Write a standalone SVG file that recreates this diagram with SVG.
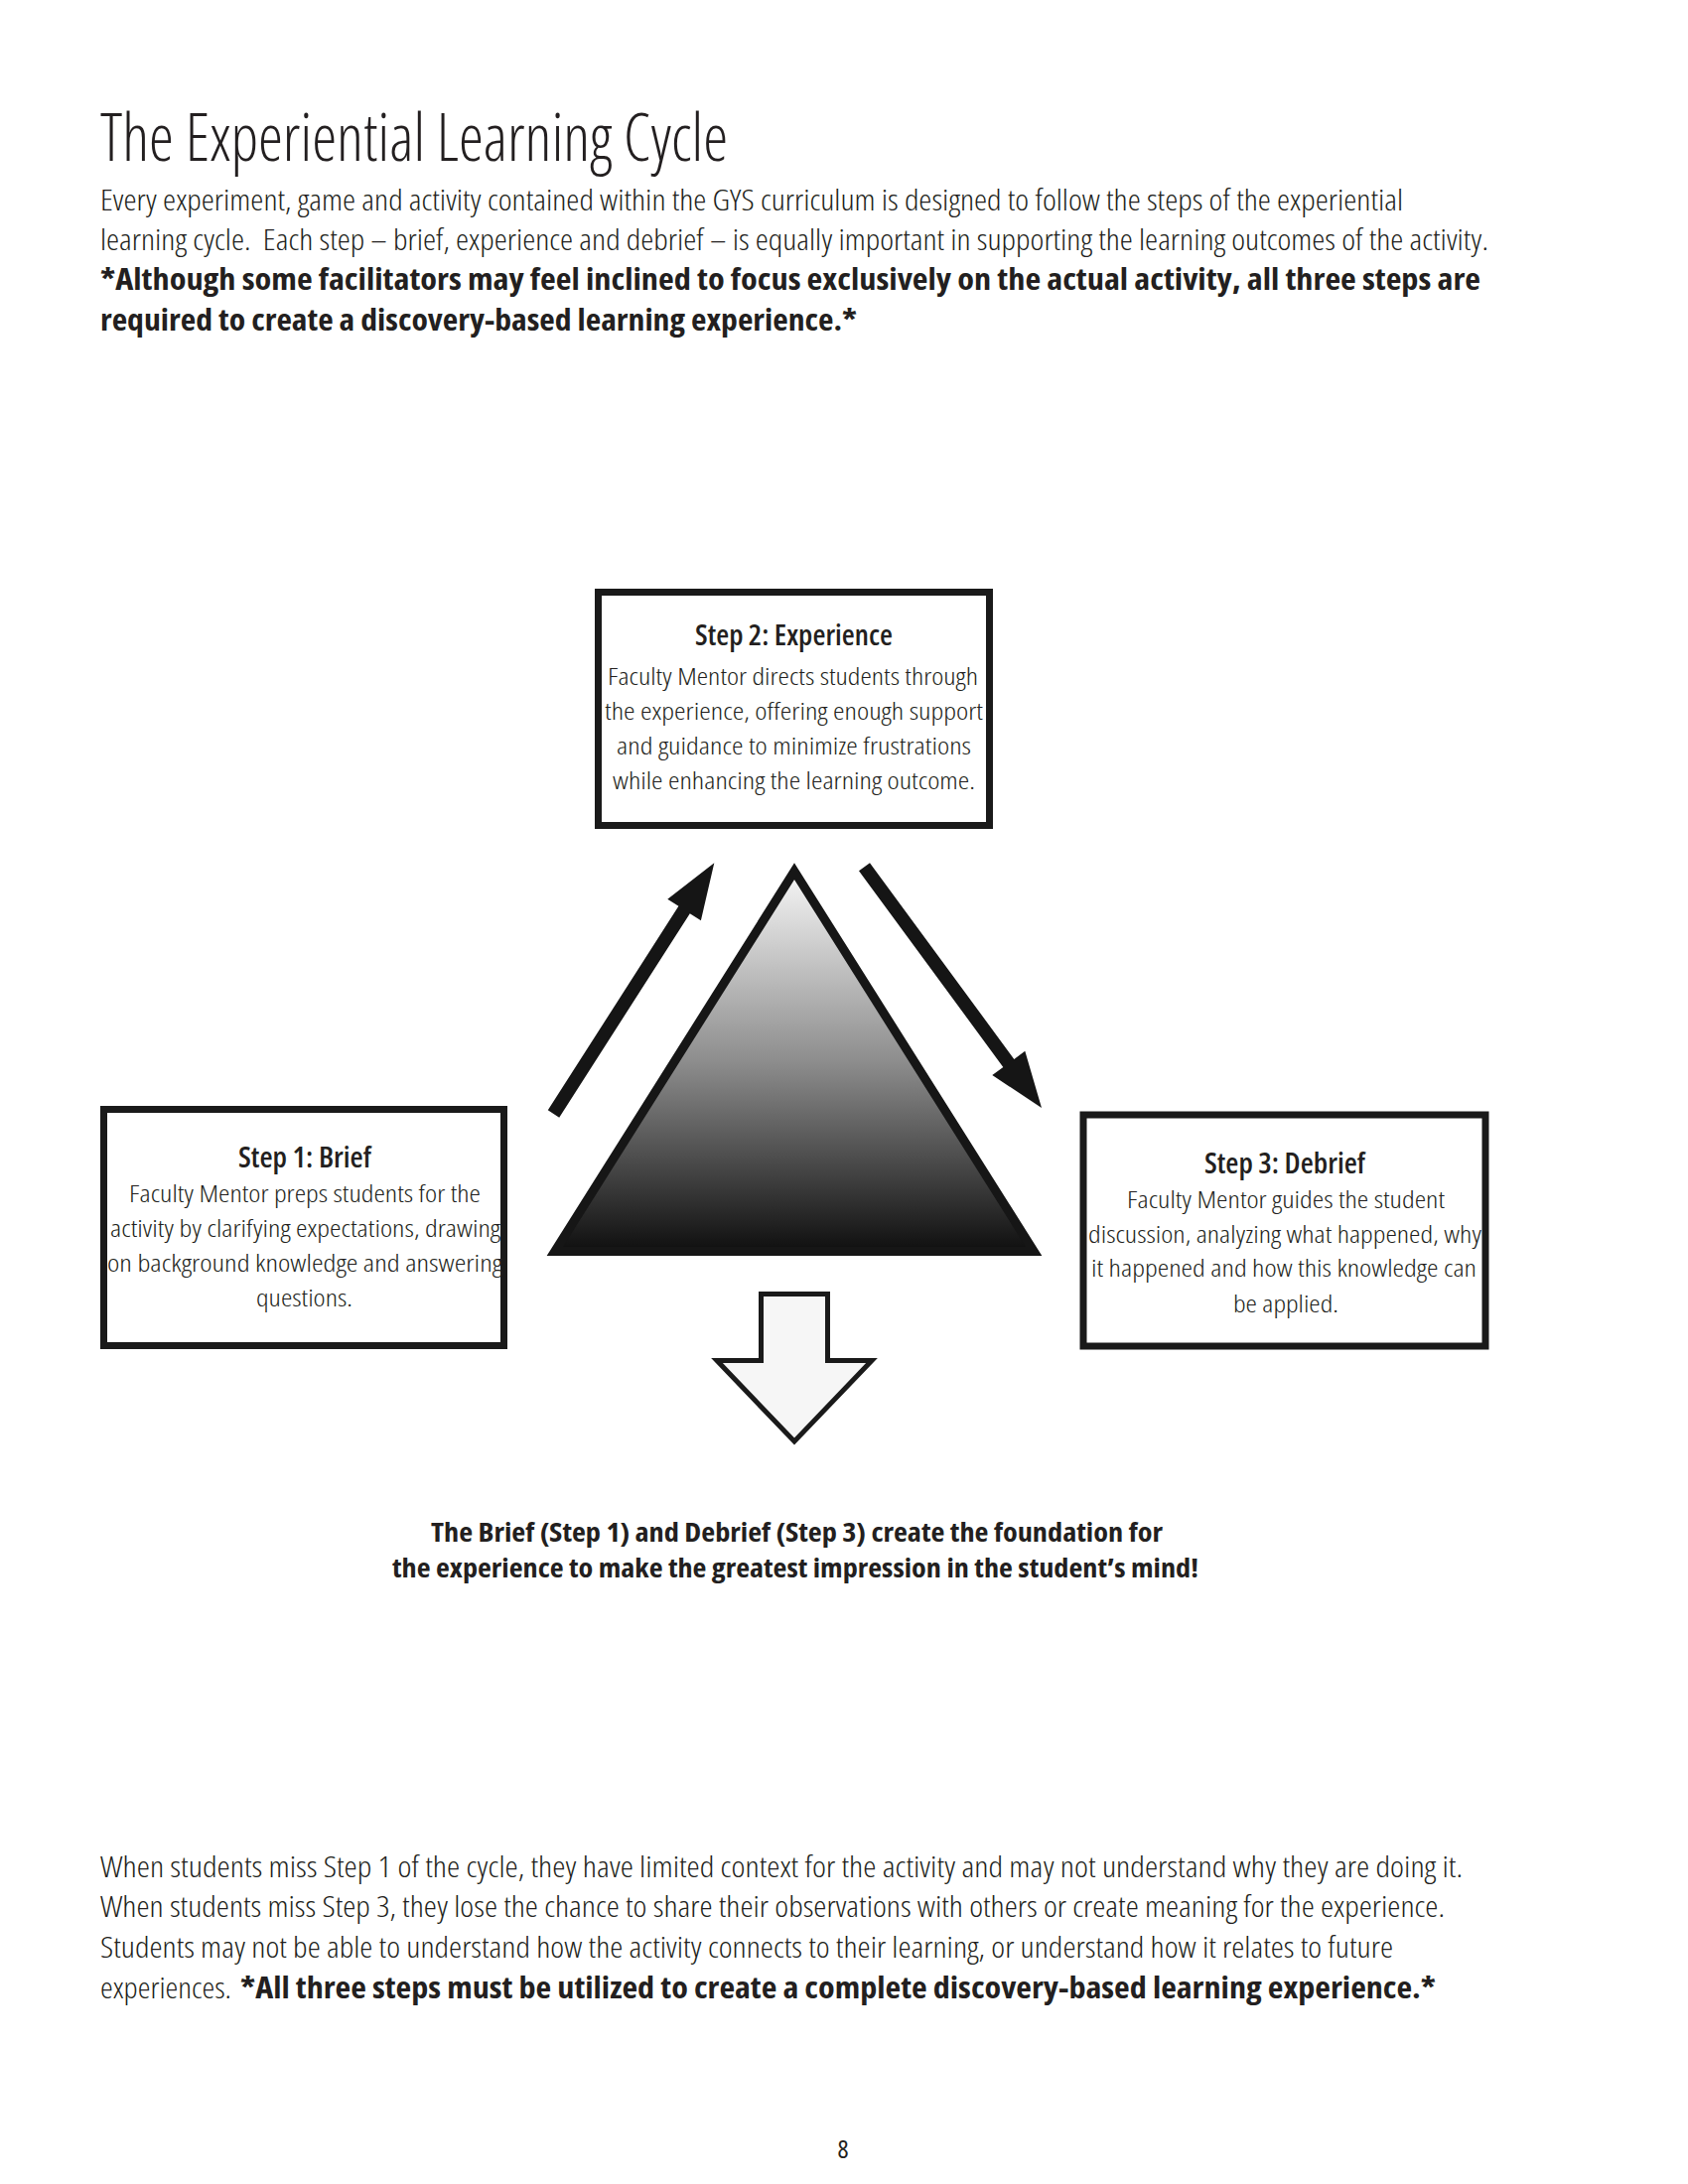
<svg xmlns="http://www.w3.org/2000/svg" width="1700" height="2200" viewBox="0 0 1700 2200">
<style>
text{font-family:"Open Sans","Noto Sans","Liberation Sans",sans-serif;fill:#231f20;font-stretch:condensed}
.lt{font-weight:300}
.h1{font-size:66px;font-weight:300}
.p{font-size:29px;font-weight:300}
.pb{font-size:30px;font-weight:700}
.mid{font-size:26px;font-weight:700}
.box{fill:#ffffff;stroke:#1a1a1a;stroke-width:7}
.t1{font-size:29px;font-weight:600}
.bt{font-size:24px;font-weight:300}
.arr{fill:#151515}
</style>
<defs>
<linearGradient id="tri" x1="0" y1="0" x2="0" y2="1">
<stop offset="0" stop-color="#f6f6f6"/>
<stop offset="0.5" stop-color="#8d8d8d"/>
<stop offset="1" stop-color="#0f0f0f"/>
</linearGradient>
</defs>
<rect width="1700" height="2200" fill="#ffffff"/>

<g id="header">
<text class="h1" x="101" y="162" textLength="632" lengthAdjust="spacingAndGlyphs">The Experiential Learning Cycle</text>
<text class="p" x="101" y="212" textLength="1312" lengthAdjust="spacingAndGlyphs">Every experiment, game and activity contained within the GYS curriculum is designed to follow the steps of the experiential</text>
<text class="p" x="101" y="252" textLength="1398" lengthAdjust="spacingAndGlyphs" style="white-space:pre">learning cycle.  Each step – brief, experience and debrief – is equally important in supporting the learning outcomes of the activity.</text>
<text class="pb" x="101" y="292" textLength="1390" lengthAdjust="spacingAndGlyphs">*Although some facilitators may feel inclined to focus exclusively on the actual activity, all three steps are</text>
<text class="pb" x="101" y="333" textLength="762" lengthAdjust="spacingAndGlyphs">required to create a discovery-based learning experience.*</text>
</g>

<g id="connectors">
<polygon class="arr" points="551.8,1118.3 683.4,912.8 672.3,905.7 719.3,869.3 705.9,927.3 694.8,920.2 563.2,1125.7"/>
<polygon class="arr" points="876,869.3 1021.3,1066.9 1032.3,1058.8 1049,1116 999.3,1083 1010.3,1074.9 865,877.3"/>
<path d="M766.5,1303.5 H833.5 V1370.5 H878 L800,1452 L722,1370.5 H766.5 Z" fill="#f6f6f6" stroke="#1a1a1a" stroke-width="5" stroke-linejoin="miter"/>
</g>

<g id="triangle">
<polygon points="800,877.7 558.8,1260.5 1041.2,1260.5" fill="url(#tri)" stroke="#161616" stroke-width="9" stroke-linejoin="miter" stroke-miterlimit="10"/>
</g>

<g id="step2">
<rect class="box" x="602.5" y="596.5" width="394" height="235"/>
<text class="t1" x="700" y="650" textLength="199" lengthAdjust="spacingAndGlyphs">Step 2: Experience</text>
<text class="bt" x="612" y="690" textLength="373" lengthAdjust="spacingAndGlyphs">Faculty Mentor directs students through</text>
<text class="bt" x="609" y="725" textLength="381" lengthAdjust="spacingAndGlyphs">the experience, offering enough support</text>
<text class="bt" x="621" y="760" textLength="357" lengthAdjust="spacingAndGlyphs">and guidance to minimize frustrations</text>
<text class="bt" x="617" y="795" textLength="365" lengthAdjust="spacingAndGlyphs">while enhancing the learning outcome.</text>
</g>

<g id="step1">
<rect class="box" x="104.5" y="1117.5" width="403" height="238"/>
<text class="t1" x="240" y="1176" textLength="134" lengthAdjust="spacingAndGlyphs">Step 1: Brief</text>
<text class="bt" x="130" y="1211" textLength="354" lengthAdjust="spacingAndGlyphs">Faculty Mentor preps students for the</text>
<text class="bt" x="111" y="1246" textLength="393" lengthAdjust="spacingAndGlyphs">activity by clarifying expectations, drawing</text>
<text class="bt" x="108" y="1281" textLength="398" lengthAdjust="spacingAndGlyphs">on background knowledge and answering</text>
<text class="bt" x="258" y="1316" textLength="97" lengthAdjust="spacingAndGlyphs">questions.</text>
</g>

<g id="step3">
<rect class="box" x="1091" y="1123" width="405" height="233"/>
<text class="t1" x="1213" y="1182" textLength="162" lengthAdjust="spacingAndGlyphs">Step 3: Debrief</text>
<text class="bt" x="1135" y="1217" textLength="320" lengthAdjust="spacingAndGlyphs">Faculty Mentor guides the student</text>
<text class="bt" x="1096" y="1252" textLength="396" lengthAdjust="spacingAndGlyphs">discussion, analyzing what happened, why</text>
<text class="bt" x="1099" y="1286" textLength="388" lengthAdjust="spacingAndGlyphs">it happened and how this knowledge can</text>
<text class="bt" x="1242" y="1322" textLength="106" lengthAdjust="spacingAndGlyphs">be applied.</text>
</g>

<g id="summary">
<text class="mid" x="434" y="1553" textLength="737" lengthAdjust="spacingAndGlyphs">The Brief (Step 1) and Debrief (Step 3) create the foundation for</text>
<text class="mid" x="395" y="1589" textLength="812" lengthAdjust="spacingAndGlyphs">the experience to make the greatest impression in the student’s mind!</text>
</g>

<g id="footer">
<text class="p" x="101" y="1891" textLength="1372" lengthAdjust="spacingAndGlyphs">When students miss Step 1 of the cycle, they have limited context for the activity and may not understand why they are doing it.</text>
<text class="p" x="101" y="1931" textLength="1354" lengthAdjust="spacingAndGlyphs">When students miss Step 3, they lose the chance to share their observations with others or create meaning for the experience.</text>
<text class="p" x="101" y="1972" textLength="1302" lengthAdjust="spacingAndGlyphs">Students may not be able to understand how the activity connects to their learning, or understand how it relates to future</text>
<text class="p" x="101" y="2013" textLength="132" lengthAdjust="spacingAndGlyphs">experiences.</text>
<text class="pb" x="242" y="2013" textLength="1204" lengthAdjust="spacingAndGlyphs">*All three steps must be utilized to create a complete discovery-based learning experience.*</text>
<text x="849" y="2174" font-size="26" font-weight="400" fill="#333333" text-anchor="middle">8</text>
</g>
</svg>
